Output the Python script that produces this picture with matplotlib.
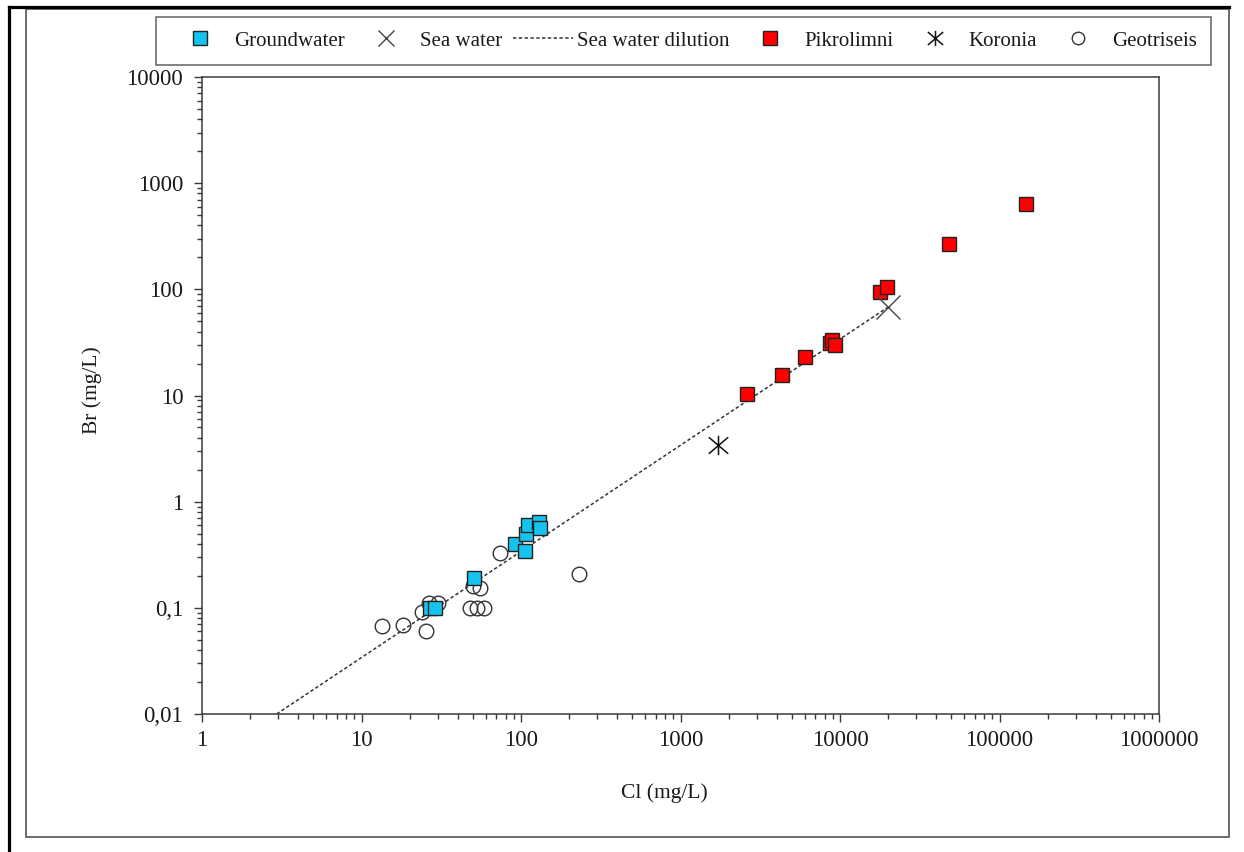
import matplotlib
matplotlib.use("Agg")
import matplotlib.pyplot as plt
from matplotlib.lines import Line2D
from matplotlib.patches import Rectangle
from matplotlib.path import Path
from matplotlib.ticker import LogLocator, NullFormatter

plt.rcParams['font.family'] = ['Liberation Serif', 'DejaVu Serif']

# ---- data -------------------------------------------------------------
gw_cl = [27, 29, 51, 92, 106, 108, 111, 130, 132]
gw_br = [0.10, 0.10, 0.19, 0.40, 0.34, 0.50, 0.60, 0.65, 0.56]

sea_cl = [20000]
sea_br = [68]

dil_cl = [2.94, 20000]
dil_br = [0.01, 68]

pik_cl = [2600, 4300, 6000, 8600, 8900, 9300, 17800, 19600, 48500, 147000]
pik_br = [10.3, 15.6, 23, 31, 33, 30, 95, 105, 265, 635]

kor_cl = [1730]
kor_br = [3.4]

geo_cl = [13.4, 18.3, 25.4, 24, 26.5, 30, 50, 55, 48, 53, 59, 74, 232]
geo_br = [0.067, 0.069, 0.061, 0.092, 0.11, 0.11, 0.16, 0.155, 0.10, 0.10, 0.10, 0.33, 0.21]

x_ticks = [1, 10, 100, 1000, 10000, 100000, 1000000]
x_tick_labels = ["1", "10", "100", "1000", "10000", "100000", "1000000"]
y_ticks = [0.01, 0.1, 1, 10, 100, 1000, 10000]
y_tick_labels = ["0,01", "0,1", "1", "10", "100", "1000", "10000"]

legend_labels = ["Groundwater", "Sea water", "Sea water dilution",
                 "Pikrolimni", "Koronia", "Geotriseis"]

# ---- styling ----------------------------------------------------------
W, H = 1244, 852
FS = 15
TICK_FS = 16.5
spine_col = "#3a3a3a"
text_col = "#1a1a1a"
cyan = "#14c3ee"
red = "#ff0000"

# vertical bar + X asterisk marker
ast = Path([(0, -1), (0, 1), (-1, -0.85), (1, 0.85), (-1, 0.85), (1, -0.85)],
           [Path.MOVETO, Path.LINETO] * 3)

fig = plt.figure(figsize=(W / 100, H / 100), dpi=100)
ax = fig.add_axes([202 / W, 1 - 714 / H, (1159 - 202) / W, (714 - 77) / H])

ax.set_xscale("log")
ax.set_yscale("log")
ax.set_xlim(1, 1e6)
ax.set_ylim(0.01, 10000)

# dilution line underneath the markers
ax.plot(dil_cl, dil_br, color="#333333", lw=1.1, ls=(0, (2.2, 1.6)), zorder=1)

ax.plot(geo_cl, geo_br, ls="none", marker="o", ms=10.5, mfc="none",
        mec="#333333", mew=1.0, zorder=2)
ax.plot(gw_cl, gw_br, ls="none", marker="s", ms=10.5, mfc=cyan,
        mec="#222222", mew=1.0, zorder=3)
ax.plot(pik_cl, pik_br, ls="none", marker="s", ms=10.5, mfc=red,
        mec="#222222", mew=1.0, zorder=3)
ax.plot(kor_cl, kor_br, ls="none", marker=ast, ms=14, mfc="none",
        mec="#111111", mew=1.1, zorder=4)
ax.plot(sea_cl, sea_br, ls="none", marker="x", ms=17, mec="#444444",
        mew=1.0, zorder=4)

# axes look
for s in ax.spines.values():
    s.set_color(spine_col)
    s.set_linewidth(1.1)

ax.set_xticks(x_ticks, labels=x_tick_labels)
ax.set_yticks(y_ticks, labels=y_tick_labels)
ax.xaxis.set_minor_locator(LogLocator(base=10, subs=range(2, 10), numticks=20))
ax.yaxis.set_minor_locator(LogLocator(base=10, subs=range(2, 10), numticks=20))
ax.xaxis.set_minor_formatter(NullFormatter())
ax.yaxis.set_minor_formatter(NullFormatter())
ax.tick_params(which="major", direction="out", length=5.5, width=1.0,
               color=spine_col, labelsize=TICK_FS, labelcolor=text_col)
ax.tick_params(which="minor", direction="out", length=3.5, width=1.0,
               color=spine_col)
ax.tick_params(axis="x", which="major", pad=6)
ax.tick_params(axis="y", which="major", pad=8)

ax.set_xlabel("Cl (mg/L)", fontsize=15.5, color=text_col)
ax.set_ylabel("Br (mg/L)", fontsize=15.5, color=text_col)
ax.xaxis.set_label_coords((664 - 202) / 957, (714 - 783) / 637)
ax.yaxis.set_label_coords((102 - 202) / 957, (714 - 390) / 637)

# legend strip across the top
handles = [
    Line2D([], [], ls="none", marker="s", ms=10, mfc=cyan, mec="#222222", mew=1.0),
    Line2D([], [], ls="none", marker="x", ms=12, mec="#444444", mew=1.0),
    Line2D([], [], color="#333333", lw=1.1, ls=(0, (2.2, 1.6))),
    Line2D([], [], ls="none", marker="s", ms=10, mfc=red, mec="#222222", mew=1.0),
    Line2D([], [], ls="none", marker=ast, ms=11, mfc="none", mec="#111111", mew=1.1),
    Line2D([], [], ls="none", marker="o", ms=9, mfc="none", mec="#333333", mew=1.0),
]
leg = fig.legend(handles, legend_labels, loc="center",
                 bbox_to_anchor=((157 + 1210) / 2 / W, 1 - 41 / H),
                 ncol=6, fontsize=FS, frameon=True, fancybox=False,
                 handlelength=2.85, handletextpad=0.2, columnspacing=0.55,
                 borderpad=0.7, borderaxespad=0)
leg.get_frame().set_edgecolor(spine_col)
leg.get_frame().set_linewidth(1.1)
for t in leg.get_texts():
    t.set_color(text_col)

# page frames
fig.add_artist(Rectangle((26 / W, 1 - 837 / H), (1229 - 26) / W, (837 - 9) / H,
                         transform=fig.transFigure, fill=False,
                         edgecolor="#444444", lw=1.1))
fig.add_artist(Line2D([8.5 / W, 1229 / W], [1 - 7 / H, 1 - 7 / H],
                      transform=fig.transFigure, color="black", lw=2.3))
fig.add_artist(Line2D([8.5 / W, 8.5 / W], [0, 1 - 7 / H],
                      transform=fig.transFigure, color="black", lw=2.3))

fig.savefig("out.png", dpi=100)
